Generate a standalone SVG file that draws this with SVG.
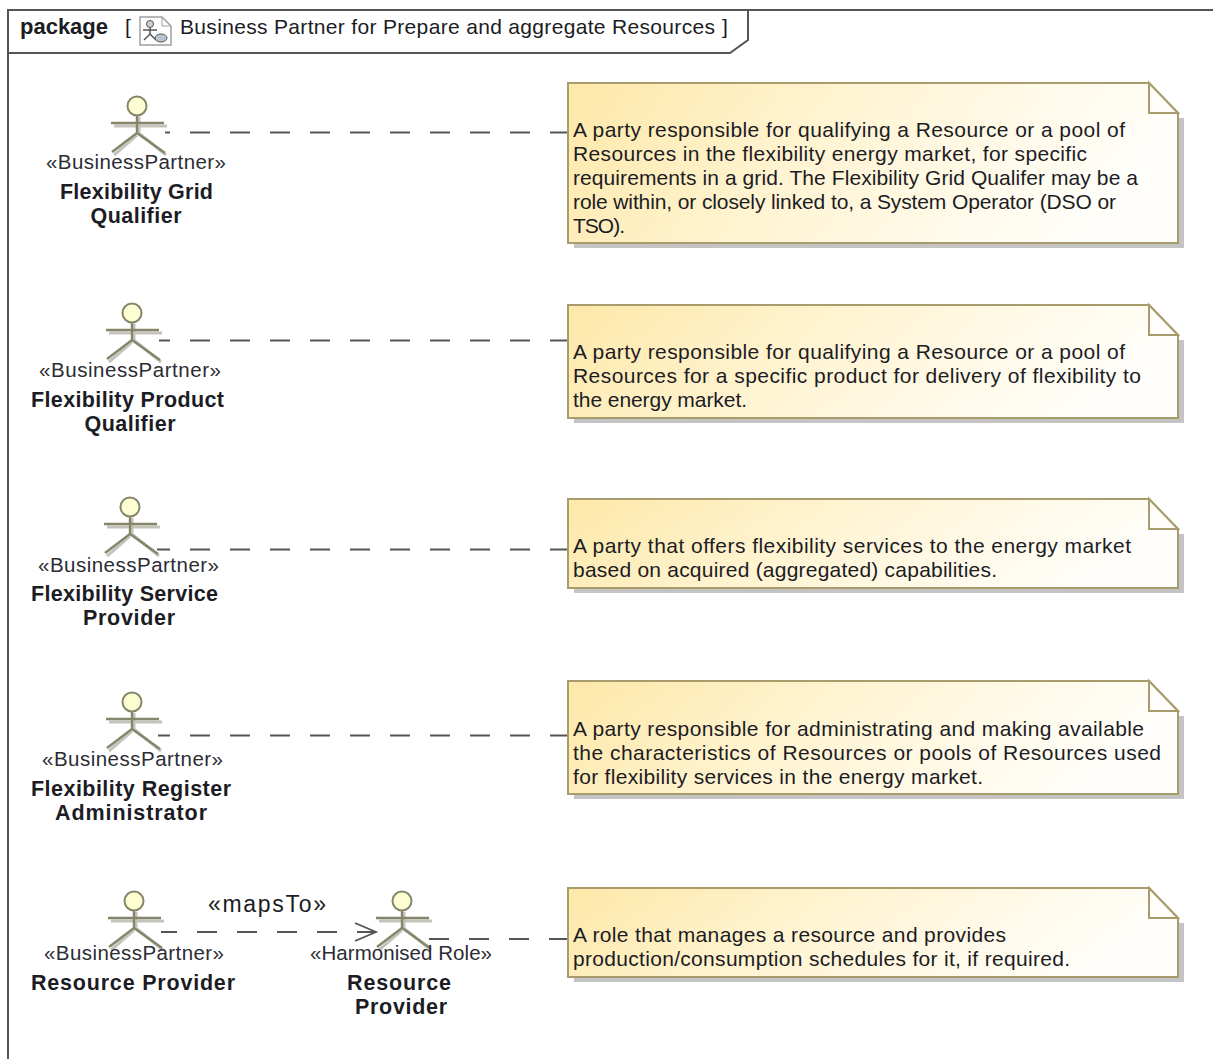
<svg xmlns="http://www.w3.org/2000/svg" width="1213" height="1059" viewBox="0 0 1213 1059">
<style>
text{font-family:"Liberation Sans",Arial,sans-serif;fill:#1c1c24}
.t{font-size:21px}
.n{font-size:21.5px;font-weight:bold;text-anchor:middle}
.s{font-size:20.5px;text-anchor:middle;fill:#2c2c34}
.dash{fill:none;stroke:#555;stroke-width:2;stroke-dasharray:20 20}
.shadow{fill:#c4c4c4}
.note{fill:url(#g);stroke:#a89c6c;stroke-width:2}
.fold{fill:#fffefa;stroke:#a89c6c;stroke-width:2}
.limb{fill:none;stroke:#85856a;stroke-width:2.4}
.head{fill:#fdfdd2;stroke:#85856a;stroke-width:2}
.limbs{fill:none;stroke:#c4c4bc;stroke-width:3}
</style>
<defs>
<linearGradient id="g" x1="0" y1="0" x2="1" y2="0.2"><stop offset="0" stop-color="#fee8a8"/><stop offset="0.45" stop-color="#fff4d2"/><stop offset="1" stop-color="#fffefa"/></linearGradient>
<g id="actor">
<path class="limbs" d="M114 126H167M139 117V135M137 135L114 155M140 134L166 155"/>
<path class="limb" d="M111 123H164M137 115V133L112 152M137 133L165 153"/>
<circle class="head" cx="137" cy="106" r="9.500"/>
</g>
<marker id="open" markerWidth="26" markerHeight="22" refX="22" refY="11" orient="auto" markerUnits="userSpaceOnUse"><path d="M1 2L22 11L1 20" fill="none" stroke="#555" stroke-width="1.800"/></marker>
</defs>
<rect width="1213" height="1059" fill="#fff"/>
<g id="frame">
<path d="M8 1059V10H1213" fill="none" stroke="#555" stroke-width="2"/>
<path d="M8 53H730L748 40V10" fill="none" stroke="#555" stroke-width="2"/>
<text x="20" y="34" style="font-size:22px;font-weight:bold" textLength="88">package</text>
<text x="125" y="34" class="t">[</text>
<g id="icon"><path d="M140 17H162L171 26V45H140Z" fill="#fff" stroke="#a0a0a0" stroke-width="1.500"/><path d="M162 17V26H171" fill="none" stroke="#a0a0a0"/><circle cx="150" cy="24" r="3.500" fill="#c8d0d8" stroke="#555"/><path d="M143 30H157M150 28V34L144 40M150 34L156 40" fill="none" stroke="#555" stroke-width="1.500"/><ellipse cx="161" cy="38" rx="6" ry="4" fill="#b8c4d0" stroke="#555"/></g>
<text x="180" y="34" class="t" textLength="535">Business Partner for Prepare and aggregate Resources</text>
<text x="722" y="34" class="t">]</text>
</g>
<g id="connectors">
<path class="dash" d="M165 132.500H567" stroke-dashoffset="15"/>
<path class="dash" d="M159 340.500H567" stroke-dashoffset="9"/>
<path class="dash" d="M157 549.500H567" stroke-dashoffset="7"/>
<path class="dash" d="M158 735.500H567" stroke-dashoffset="8"/>
<path class="dash" d="M161 932H376" stroke-dashoffset="4" marker-end="url(#open)"/>
<text x="267" y="912" style="font-size:23px;text-anchor:middle" textLength="118">«mapsTo»</text>
<path class="dash" d="M429 939H567"/>
</g>
<g id="actor-grid"><use href="#actor"/><text x="136" y="169" class="s" textLength="180">«BusinessPartner»</text><text x="136.500" y="199" class="n" textLength="153">Flexibility Grid</text><text x="136" y="223" class="n" textLength="91">Qualifier</text></g>
<g id="actor-product"><use href="#actor" x="-5" y="207"/><text x="130" y="377" class="s" textLength="182">«BusinessPartner»</text><text x="127.500" y="407" class="n" textLength="193">Flexibility Product</text><text x="130" y="431" class="n" textLength="91">Qualifier</text></g>
<g id="actor-fsp"><use href="#actor" x="-7" y="401"/><text x="128.500" y="572" class="s" textLength="181">«BusinessPartner»</text><text x="124.500" y="601" class="n" textLength="187">Flexibility Service</text><text x="129" y="625" class="n" textLength="92">Provider</text></g>
<g id="actor-register"><use href="#actor" x="-5" y="596"/><text x="132.500" y="766" class="s" textLength="181">«BusinessPartner»</text><text x="131" y="796" class="n" textLength="200">Flexibility Register</text><text x="131" y="820" class="n" textLength="152">Administrator</text></g>
<g id="actor-rp"><use href="#actor" x="-3" y="795"/><text x="134" y="960" class="s" textLength="180">«BusinessPartner»</text><text x="133" y="990" class="n" textLength="204">Resource Provider</text></g>
<g id="actor-hr"><use href="#actor" x="265" y="795"/><text x="401" y="960" class="s" textLength="182">«Harmonised Role»</text><text x="399" y="990" class="n" textLength="104">Resource</text><text x="401" y="1014" class="n" textLength="92">Provider</text></g>
<g id="note-1"><path class="shadow" d="M1178 118H1184V248H574V243H1178Z"/><path class="note" d="M568 83H1149L1178 113V243H568Z"/><path class="fold" d="M1149 83L1178 113H1149Z"/>
<text class="t" x="573" y="137" textLength="552">A party responsible for qualifying a Resource or a pool of</text><text class="t" x="573" y="161" textLength="514">Resources in the flexibility energy market, for specific</text><text class="t" x="573" y="185" textLength="565">requirements in a grid. The Flexibility Grid Qualifer may be a</text><text class="t" x="573" y="209" textLength="543">role within, or closely linked to, a System Operator (DSO or</text><text class="t" x="573" y="233" textLength="52">TSO).</text></g>
<g id="note-2"><path class="shadow" d="M1178 340H1184V423H574V418H1178Z"/><path class="note" d="M568 305H1149L1178 335V418H568Z"/><path class="fold" d="M1149 305L1178 335H1149Z"/>
<text class="t" x="573" y="359" textLength="552">A party responsible for qualifying a Resource or a pool of</text><text class="t" x="573" y="383" textLength="568">Resources for a specific product for delivery of flexibility to</text><text class="t" x="573" y="407" textLength="174">the energy market.</text></g>
<g id="note-3"><path class="shadow" d="M1178 534H1184V593H574V588H1178Z"/><path class="note" d="M568 499H1149L1178 529V588H568Z"/><path class="fold" d="M1149 499L1178 529H1149Z"/>
<text class="t" x="573" y="553" textLength="558">A party that offers flexibility services to the energy market</text><text class="t" x="573" y="577" textLength="424">based on acquired (aggregated) capabilities.</text></g>
<g id="note-4"><path class="shadow" d="M1178 716H1184V799H574V794H1178Z"/><path class="note" d="M568 681H1149L1178 711V794H568Z"/><path class="fold" d="M1149 681L1178 711H1149Z"/>
<text class="t" x="573" y="736" textLength="571">A party responsible for administrating and making available</text><text class="t" x="573" y="760" textLength="588">the characteristics of Resources or pools of Resources used</text><text class="t" x="573" y="784" textLength="410">for flexibility services in the energy market.</text></g>
<g id="note-5"><path class="shadow" d="M1178 923H1184V982H574V977H1178Z"/><path class="note" d="M568 888H1149L1178 918V977H568Z"/><path class="fold" d="M1149 888L1178 918H1149Z"/>
<text class="t" x="573" y="942" textLength="433">A role that manages a resource and provides</text><text class="t" x="573" y="966" textLength="497">production/consumption schedules for it, if required.</text></g>
</svg>
